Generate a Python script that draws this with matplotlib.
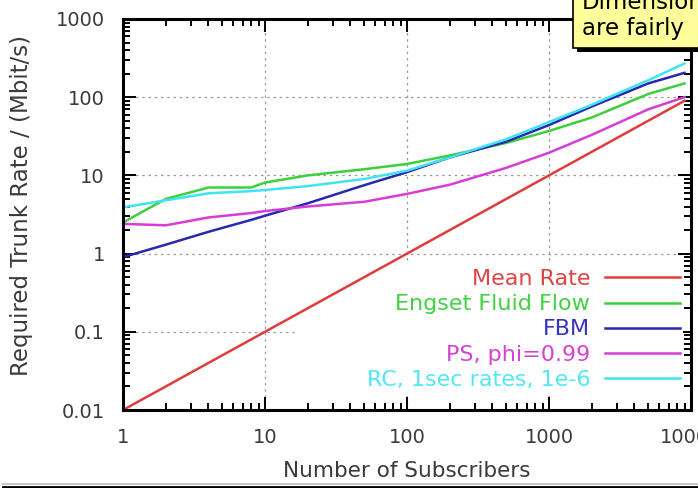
import matplotlib
matplotlib.use("Agg")
import matplotlib.pyplot as plt
from matplotlib.patches import Rectangle
from matplotlib.lines import Line2D
from matplotlib.ticker import LogLocator, NullFormatter

# data
subscribers = [1, 2, 4, 8, 10, 20, 50, 100, 200, 500, 1000, 2000, 5000, 9000]
mean_rate = [0.01, 0.02, 0.04, 0.08, 0.1, 0.2, 0.5, 1, 2, 5, 10, 20, 50, 90]
engset = [2.5, 5.0, 7.0, 7.0, 8.1, 10.0, 12.0, 14.0, 18.0, 26.0, 37.0, 55.0, 110.0, 150.0]
fbm = [0.9, 1.3, 1.9, 2.7, 3.05, 4.4, 7.5, 11.0, 17.0, 27.0, 44.0, 76.0, 150.0, 205.0]
ps = [2.4, 2.3, 2.9, 3.3, 3.5, 4.0, 4.6, 5.8, 7.6, 12.5, 19.5, 33.0, 70.0, 100.0]
rc = [3.9, 4.8, 5.9, 6.3, 6.5, 7.3, 9.0, 11.5, 17.0, 29.0, 48.0, 80.0, 165.0, 270.0]

series = [mean_rate, engset, fbm, ps, rc]
labels = ["Mean Rate", "Engset Fluid Flow", "FBM", "PS, phi=0.99", "RC, 1sec rates, 1e-6"]
line_colors = ["#e03c3c", "#3cd03c", "#2828b0", "#d83cd8", "#40e4f0"]
text_colors = ["#e04444", "#44d044", "#3434c0", "#d444d4", "#50e8f4"]

x_ticks = [1, 10, 100, 1000, 10000]
x_tick_labels = ["1", "10", "100", "1000", "10000"]
y_ticks = [0.01, 0.1, 1, 10, 100, 1000]
y_tick_labels = ["0.01", "0.1", "1", "10", "100", "1000"]

fig = plt.figure(figsize=(6.98, 4.88), dpi=100)
ax = fig.add_axes([123 / 698, 78 / 488, 568 / 698, 391 / 488])

ax.set_xscale("log")
ax.set_yscale("log")
ax.set_xlim(1, 10000)
ax.set_ylim(0.01, 1000)

ax.set_axisbelow(True)
ax.grid(True, which="major", color="#9a9a9a", linestyle=(0, (2, 3)), linewidth=0.9)

# key area hides the grid behind it
ax.add_patch(Rectangle((0.306, 0.035), 0.68, 0.345, transform=ax.transAxes,
                       facecolor="white", edgecolor="none", zorder=1))

for vals, lab, col in zip(series, labels, line_colors):
    ax.plot(subscribers, vals, color=col, lw=1.8, label=lab, zorder=2)

ax.set_xticks(x_ticks)
ax.set_xticklabels(x_tick_labels)
ax.set_yticks(y_ticks)
ax.set_yticklabels(y_tick_labels)
ax.xaxis.set_minor_locator(LogLocator(base=10, subs=range(2, 10), numticks=20))
ax.yaxis.set_minor_locator(LogLocator(base=10, subs=range(2, 10), numticks=20))
ax.xaxis.set_minor_formatter(NullFormatter())
ax.yaxis.set_minor_formatter(NullFormatter())

ax.tick_params(which="both", direction="in", top=True, right=True, width=1.4,
               color="black", labelcolor="#3a3a3a", labelsize=14)
ax.tick_params(axis="x", pad=13)
ax.tick_params(axis="y", pad=13)
ax.tick_params(which="major", length=9.5)
ax.tick_params(which="minor", length=5)

for sp in ax.spines.values():
    sp.set_linewidth(2.2)

ax.set_xlabel("Number of Subscribers", fontsize=15.5, color="#3a3a3a")
ax.set_ylabel("Required Trunk Rate / (Mbit/s)", fontsize=16.5, color="#3a3a3a")
ax.xaxis.set_label_coords(0.5, -0.13)
ax.yaxis.set_label_coords(-0.158, 0.524)

leg = ax.legend(loc="lower right", bbox_to_anchor=(0.981, 0.052), frameon=False,
                markerfirst=False, labelcolor=text_colors, fontsize=16,
                handlelength=3.4, handletextpad=0.65, labelspacing=0.23,
                borderpad=0, borderaxespad=0)

# yellow callout in the top right corner
fig.add_artist(Rectangle((577 / 698, 1 - 52 / 488), 0.3, 0.2, transform=fig.transFigure,
                         facecolor="black", edgecolor="none"))
fig.add_artist(Rectangle((573 / 698, 1 - 48 / 488), 0.3, 0.2, transform=fig.transFigure,
                         facecolor="#fdfd9c", edgecolor="black", lw=1.2))
fig.text(582 / 698, 1 - 9 / 488, "Dimensioning", fontsize=16.5, color="black", va="baseline")
fig.text(582 / 698, 1 - 35 / 488, "are fairly", fontsize=16.5, color="black", va="baseline")

# rule along the bottom of the slide
fig.add_artist(Line2D([3 / 698, 1], [1 - 483.5 / 488] * 2, color="#c8c8c8", lw=1.5))
fig.add_artist(Line2D([3 / 698, 1], [1 - 487 / 488] * 2, color="black", lw=2))

fig.savefig("out.png", dpi=100)
